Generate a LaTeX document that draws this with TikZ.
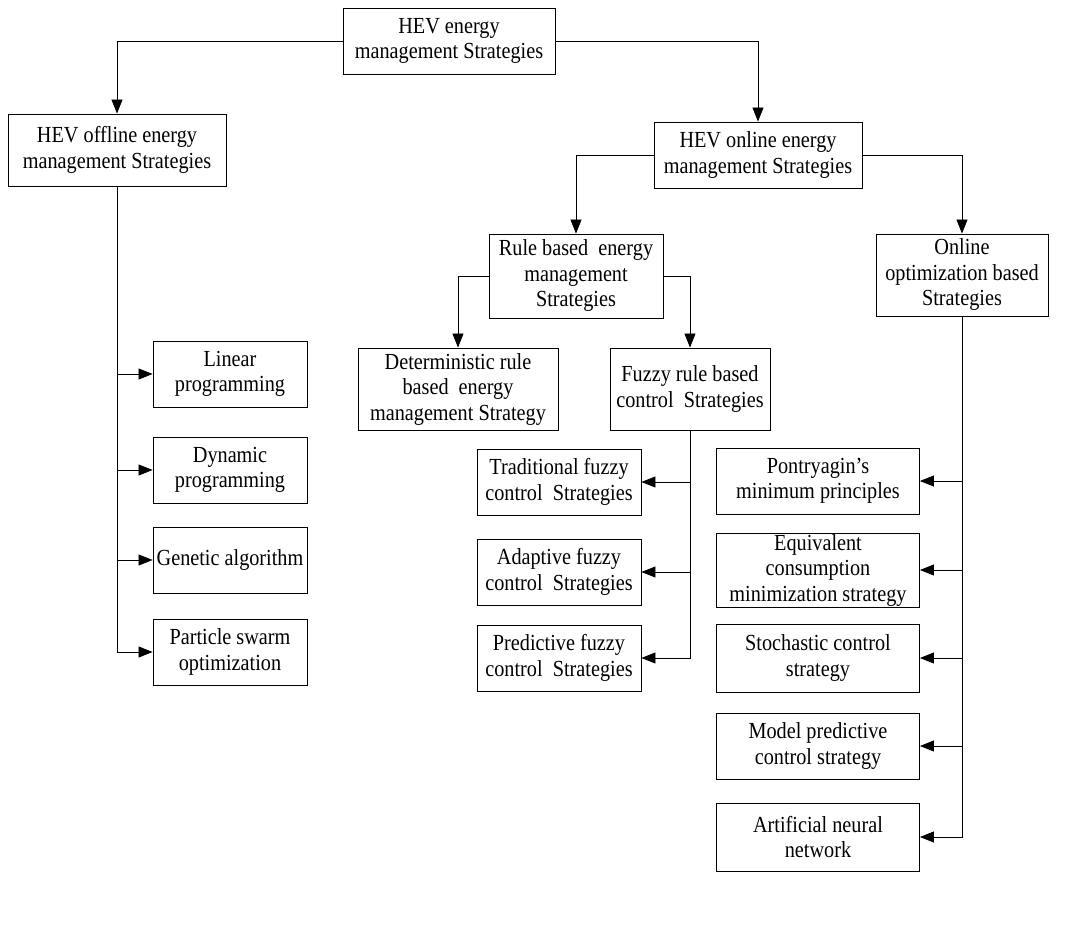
\documentclass[tikz,border=0pt]{standalone}
\usepackage{fontspec}
\setmainfont{Liberation Serif}[FakeStretch=0.88]
\usetikzlibrary{arrows.meta}
\tikzset{
  box/.style={draw, line width=0.9pt, align=center, inner sep=0pt,
    font=\fontsize{23}{25.5}\selectfont},
  arr/.style={line width=0.8pt, -{Triangle[length=14pt,width=11pt]}}
}
\begin{document}
\begin{tikzpicture}[x=1pt,y=-1pt]
\useasboundingbox (0,0) rectangle (1067,936);
% level 0/1
\node[box, minimum width=212pt, minimum height=66pt] (top) at (449,41) {HEV energy\\management Strategies};
\node[box, minimum width=218pt, minimum height=72pt] (off) at (117,150) {HEV offline energy\\management Strategies};
\node[box, minimum width=208pt, minimum height=66pt] (on) at (758,155) {HEV online energy\\management Strategies};
% level 2
\node[box, minimum width=174pt, minimum height=84pt] (rule) at (576,276) {Rule based\ \ energy\\management\\Strategies};
\node[box, minimum width=172pt, minimum height=82pt] (oopt) at (962,275) {Online\\optimization based\\Strategies};
% level 3
\node[box, minimum width=200pt, minimum height=82pt] (det) at (458,389) {Deterministic rule\\based\ \ energy\\management Strategy};
\node[box, minimum width=160pt, minimum height=82pt] (fuz) at (690,389) {Fuzzy rule based\\control\ \ Strategies};
% offline children
\node[box, minimum width=154pt, minimum height=66pt] (lin) at (230,374) {Linear\\programming};
\node[box, minimum width=154pt, minimum height=66pt] (dyn) at (230,470) {Dynamic\\programming};
\node[box, minimum width=154pt, minimum height=66pt] (gen) at (230,560) {Genetic algorithm};
\node[box, minimum width=154pt, minimum height=66pt] (pso) at (230,652) {Particle swarm\\optimization};
% fuzzy children
\node[box, minimum width=164pt, minimum height=66pt] (trad) at (559,482) {Traditional fuzzy\\control\ \ Strategies};
\node[box, minimum width=164pt, minimum height=66pt] (adap) at (559,572) {Adaptive fuzzy\\control\ \ Strategies};
\node[box, minimum width=164pt, minimum height=66pt] (pred) at (559,658) {Predictive fuzzy\\control\ \ Strategies};
% online optimization children
\node[box, minimum width=203pt, minimum height=66pt] (pmp) at (818,481) {Pontryagin’s\\minimum principles};
\node[box, minimum width=203pt, minimum height=74pt] (ecms) at (818,570) {Equivalent\\consumption\\minimization strategy};
\node[box, minimum width=203pt, minimum height=68pt] (sto) at (818,658) {Stochastic control\\strategy};
\node[box, minimum width=203pt, minimum height=66pt] (mpc) at (818,746) {Model predictive\\control strategy};
\node[box, minimum width=203pt, minimum height=68pt] (ann) at (818,837) {Artificial neural\\network};
% connectors
\draw[arr] (top.west) -| (off.north);
\draw[arr] (top.east) -| (on.north);
\draw[arr] (on.west) -| (rule.north);
\draw[arr] (on.east) -| (oopt.north);
\draw[arr] (rule.west) -| (det.north);
\draw[arr] (rule.east) -| (fuz.north);
% offline trunk
\draw[arr] (off.south) |- (pso.west);
\draw[arr] (off.south |- lin.west) -- (lin.west);
\draw[arr] (off.south |- dyn.west) -- (dyn.west);
\draw[arr] (off.south |- gen.west) -- (gen.west);
% fuzzy trunk
\draw[arr] (fuz.south) |- (pred.east);
\draw[arr] (fuz.south |- trad.east) -- (trad.east);
\draw[arr] (fuz.south |- adap.east) -- (adap.east);
% online optimization trunk
\draw[arr] (oopt.south) |- (ann.east);
\draw[arr] (oopt.south |- pmp.east) -- (pmp.east);
\draw[arr] (oopt.south |- ecms.east) -- (ecms.east);
\draw[arr] (oopt.south |- sto.east) -- (sto.east);
\draw[arr] (oopt.south |- mpc.east) -- (mpc.east);
\end{tikzpicture}
\end{document}
